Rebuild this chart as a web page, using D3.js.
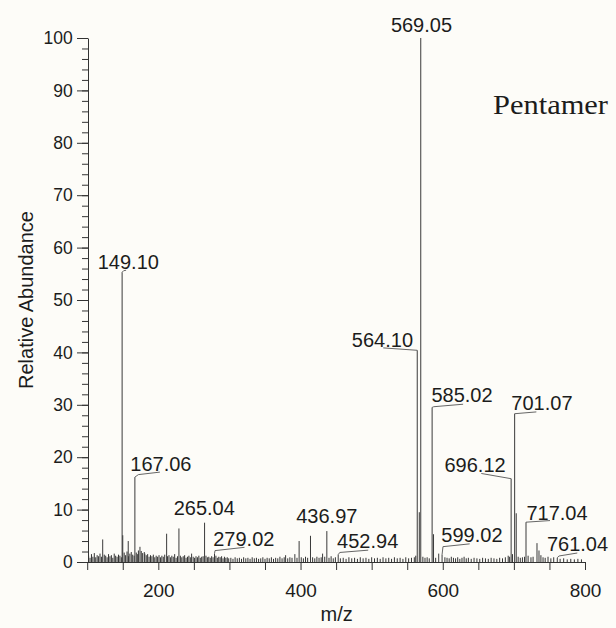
<!DOCTYPE html>
<html><head><meta charset="utf-8">
<script src="https://cdn.jsdelivr.net/npm/d3@7"></script>
<style>
body{margin:0;background:#fdfcf8}
svg{display:block}
text{font-family:"Liberation Sans",Arial,sans-serif;fill:#1c1c1c}
</style>
</head><body>
<svg id="c" width="616" height="628"></svg>
<script>
// ---------- data ----------
const xTickValues = d3.range(100, 801, 50);
const xTickLabels = [200, 400, 600, 800];
const yMajorTicks = d3.range(0, 101, 10);
const yMinorTicks = d3.range(0, 101, 2);

// prominent peaks (m/z, relative abundance)
const peakMz  = [121.8, 149.10, 150.0, 157.7, 162.0, 167.06, 174.2, 180.3, 211.7, 229.0, 246.8, 265.04, 279.02, 379.0, 392.0, 398.0, 414.0, 431.0, 436.97, 452.94, 564.10, 567.0, 569.05, 585.02, 587.0, 594.3, 599.02, 696.12, 701.07, 703.3, 717.04, 732.5, 735.3, 761.04];
const peakInt = [4.3,   55.3,   5.1,   4.0,   1.9,   16.2,   2.9,   1.9,   5.4,   6.4,   1.6,   7.5,    1.6,    1.3,   1.5,   4.0,   5.0,   1.6,   5.9,    1.4,    40.4,   9.5,   100,    29.5,   5.3,   1.6,   1.4,    15.9,   28.3,   9.3,   7.6,    3.6,   2.2,   0.8];

// labelled peaks
const labelMz = [149.10, 167.06, 265.04, 279.02, 436.97, 452.94, 564.10, 569.05, 585.02, 599.02, 696.12, 701.07, 717.04, 761.04];

// baseline noise peaks (m/z, abundance)
const noiseMz = [102,104,106,108,110,112,114,116,118,120,124,126,128,130,132,134,136,138,140,142,144,146,148,
  152,154,156,158,160,164,166,169,171,172,176,178,181,183,185,187,189,191,193,195,197,199,
  201,203,205,207,209,213,215,217,219,221,223,225,227,231,233,235,237,239,241,243,245,249,251,253,255,257,259,261,263,267,269,271,273,275,277,281,283,285,287,289,291,293,295,297,299,
  302,305,308,311,314,317,320,323,326,329,332,335,338,341,344,347,350,353,356,359,362,365,368,371,374,377,382,385,388,395,
  401,404,407,410,417,420,423,426,429,434,440,443,446,449,456,460,464,468,472,476,480,484,488,492,496,500,504,508,512,516,520,524,528,532,536,540,544,548,552,556,560,562,
  572,575,578,581,590,603,606,609,612,615,618,621,624,627,630,633,636,640,644,648,652,656,660,664,668,672,676,680,684,688,692,694,
  698,706,709,712,715,720,724,727,738,741,744,748,752,756,765,770,775,780,785,790,795];
const noiseInt = [1.2,0.8,1.5,1.0,1.7,0.9,1.3,1.1,1.6,1.0,1.4,1.2,0.9,1.5,1.1,1.3,0.8,1.6,1.2,1.0,1.4,1.2,0.9,
  1.8,1.3,2.0,1.1,1.6,1.4,1.2,1.8,1.5,2.2,2.1,1.7,1.6,1.3,1.5,1.0,1.3,1.1,1.4,0.9,1.2,1.0,
  1.3,0.9,1.2,1.0,1.4,1.1,1.3,0.9,1.2,1.0,1.5,0.8,1.1,1.2,0.9,1.1,1.3,0.8,1.0,1.2,0.9,1.0,0.8,1.1,0.9,1.2,0.8,1.0,1.1,1.2,0.9,1.0,0.8,1.1,0.9,1.2,0.8,1.0,0.9,1.1,0.7,1.0,0.8,0.9,0.7,
  0.8,0.6,0.9,0.7,0.8,0.6,0.9,0.7,0.8,0.6,0.9,0.7,0.8,0.6,0.7,0.9,0.6,0.8,0.7,0.9,0.6,0.8,0.7,1.0,0.7,0.9,0.7,0.9,0.8,0.8,
  0.9,0.7,1.0,0.8,0.9,0.7,1.0,0.8,0.9,1.0,0.8,1.1,0.7,0.9,0.7,0.8,0.6,0.9,0.7,0.8,0.6,0.9,0.7,0.8,0.6,0.9,0.7,0.8,0.6,0.9,0.7,0.8,0.6,0.9,0.7,0.8,0.6,0.9,0.7,0.8,0.9,1.2,
  1.0,0.8,0.9,0.7,0.8,0.9,0.8,0.7,1.0,0.8,0.7,0.9,0.6,0.8,1.0,0.7,0.8,0.6,0.8,0.7,0.6,0.8,0.7,0.6,0.8,0.7,0.6,0.8,0.7,0.9,1.2,1.0,
  1.5,1.0,0.8,0.9,1.0,1.2,0.9,1.0,1.3,0.9,0.8,1.0,0.7,0.9,0.6,0.7,0.5,0.6,0.5,0.6,0.5];

// ---------- layout (label offsets relative to the peak top, px) ----------
const labelLayout = {
  "149.10": {dx:-24.4, dy:-3.5, anchor:"start",  conn:[[0,0],[1.5,-1.5],[4,-2]]},
  "167.06": {dx:-4.6,  dy:-6.4, anchor:"start",  conn:[[0,0],[3.5,-2.5],[25,-5]]},
  "265.04": {dx:-0.3,  dy:-7.7, anchor:"middle", conn:null},
  "279.02": {dx:-1.3,  dy:-7.9, anchor:"start",  conn:[[0,0],[0.5,-3],[30,-6.3]]},
  "436.97": {dx:0,     dy:-7.7, anchor:"middle", conn:null},
  "452.94": {dx:-1.1,  dy:-6.4, anchor:"start",  conn:[[0,0],[1.6,-2.2],[30,-4.5]]},
  "564.10": {dx:-4.2,  dy:-3.6, anchor:"end",    conn:[[0,0],[-34,-2.4]]},
  "569.05": {dx:0.7,   dy:-6.3, anchor:"middle", conn:null},
  "585.02": {dx:-0.7,  dy:-5.7, anchor:"start",  conn:[[0,0],[1.6,-0.7],[31,-3.2]]},
  "599.02": {dx:-0.7,  dy:-13,  anchor:"start",  conn:[[0,0],[0.9,-8],[27.6,-10.8]]},
  "696.12": {dx:-5.5,  dy:-7,   anchor:"end",    conn:[[0,0],[-29.8,-5.2]]},
  "701.07": {dx:-3.3,  dy:-3.9, anchor:"start",  conn:[[0,0],[21.7,-1.8]]},
  "717.04": {dx:0.4,   dy:-2.4, anchor:"start",  conn:[[0,0],[24,-1.6]]},
  "761.04": {dx:-10.4, dy:-6.5, anchor:"start",  conn:[[0,0],[1.6,-1.8],[20,-4.8]]}
};

// ---------- chart ----------
const svg = d3.select("#c");
svg.append("rect").attr("width",616).attr("height",628).attr("fill","#fdfcf8");

const x = d3.scaleLinear().domain([100, 800]).range([87.2, 585]);
const y = d3.scaleLinear().domain([0, 100]).range([562, 38]);

// noise
svg.append("g").selectAll("line").data(noiseMz.map((m,i)=>[m,noiseInt[i]])).join("line")
  .attr("x1",d=>x(d[0])).attr("x2",d=>x(d[0]))
  .attr("y1",y(0)).attr("y2",d=>y(d[1]))
  .attr("stroke","#333").attr("stroke-width",1);

// peaks
const peaks = peakMz.map((m,i)=>({mz:m, v:peakInt[i]}));
svg.append("g").selectAll("line").data(peaks).join("line")
  .attr("x1",d=>x(d.mz)).attr("x2",d=>x(d.mz))
  .attr("y1",y(0)).attr("y2",d=>y(d.v))
  .attr("stroke","#3a3a3a").attr("stroke-width",1);

// axes
const yMinor = d3.axisLeft(y).tickValues(yMinorTicks).tickSize(6).tickSizeOuter(0).tickFormat("");
svg.append("g").attr("transform","translate(88,0)").call(yMinor);
const yMajor = d3.axisLeft(y).tickValues(yMajorTicks).tickSize(11).tickSizeOuter(0).tickPadding(4.3);
const gy2 = svg.append("g").attr("transform","translate(88,0)").call(yMajor);
gy2.select(".domain").remove();
gy2.selectAll("text").attr("font-size",17.5).attr("font-family","Liberation Sans, Arial, sans-serif").attr("fill","#1c1c1c");

const xAxis = d3.axisBottom(x).tickValues(xTickValues).tickSize(8).tickSizeOuter(0).tickPadding(13.5)
  .tickFormat(d => xTickLabels.includes(d) ? String(d) : "");
const gx = svg.append("g").attr("transform","translate(0,562)").call(xAxis);
gx.selectAll("text").attr("font-size",19).attr("font-family","Liberation Sans, Arial, sans-serif").attr("fill","#1c1c1c");

svg.selectAll(".domain, .tick line").attr("stroke","#333").attr("stroke-width",1);

// labels + connectors
const lab = svg.append("g");
labelMz.forEach(m => {
  const key = m.toFixed(2);
  const L = labelLayout[key];
  const v = peakInt[peakMz.indexOf(m)];
  const px = x(m), py = y(v);
  if (L.conn) {
    lab.append("path")
      .attr("d", d3.line()(L.conn.map(p => [px + p[0], py + p[1]])))
      .attr("fill","none").attr("stroke","#555").attr("stroke-width",0.9);
  }
  lab.append("text").attr("x", px + L.dx).attr("y", py + L.dy)
    .attr("text-anchor", L.anchor).attr("font-size", 20).text(key);
});

// axis titles
svg.append("text").attr("x",336.7).attr("y",621).attr("text-anchor","middle").attr("font-size",20).text("m/z");
svg.append("text").attr("transform","translate(33,300) rotate(-90)").attr("text-anchor","middle").attr("font-size",20).text("Relative Abundance");

// annotation
svg.append("text").attr("x",493).attr("y",113.5).attr("font-size",27)
  .attr("textLength",115).attr("lengthAdjust","spacingAndGlyphs")
  .style("font-family","'Liberation Serif','Times New Roman',serif").attr("fill","#111").text("Pentamer");
</script>
</body></html>
